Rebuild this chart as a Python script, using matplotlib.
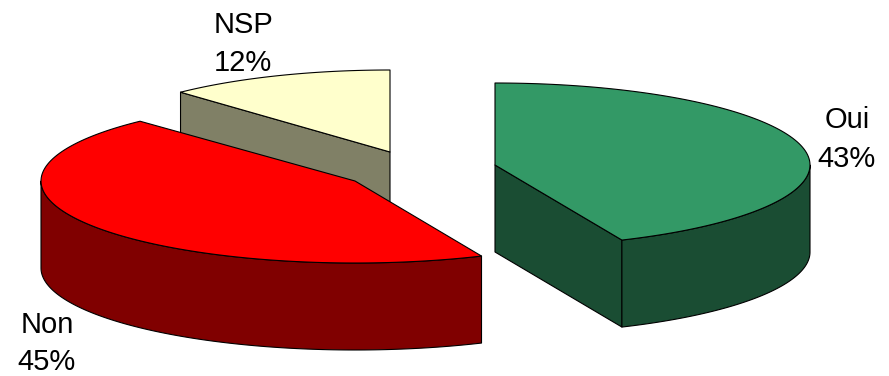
import numpy as np
import matplotlib
matplotlib.use('Agg')
import matplotlib.pyplot as plt
from matplotlib.patches import Polygon

plt.rcParams['font.family'] = ['Liberation Sans', 'DejaVu Sans']

categories = ['Oui', 'Non', 'NSP']
values = [43.4, 44.6, 12.0]
top_colors = ['#339966', '#FF0000', '#FFFFCC']
side_colors = ['#1A4D33', '#800000', '#808066']

# pie geometry in pixels (each slice has its own centre because it is pulled out)
centers = {'Oui': (495, 165), 'Non': (355, 181), 'NSP': (390, 152)}
radii = {'Oui': 315, 'Non': 314, 'NSP': 306}
b = 82
depth = 87

# x centre, baseline of the name, baseline of the percent
labels_pos = {'Oui': (847, 128, 167), 'Non': (47, 333, 370), 'NSP': (243, 33, 71)}

fig = plt.figure(figsize=(8.89, 3.76), dpi=100)
ax = fig.add_axes([0, 0, 1, 1])
ax.set_xlim(0, 889)
ax.set_ylim(376, 0)
ax.axis('off')


def arc(name, a0, a1):
    cx, cy = centers[name]
    t = np.radians(np.linspace(a0, a1, 120))
    return np.column_stack([cx + radii[name] * np.sin(t), cy - b * np.cos(t)])


def poly(pts, color):
    ax.add_patch(Polygon(pts, closed=True, facecolor=color, edgecolor='black', lw=0.8, joinstyle='round'))


angles = np.concatenate([[0], np.cumsum(values) / np.sum(values) * 360])
slices = {c: (angles[i], angles[i + 1], top_colors[i], side_colors[i]) for i, c in enumerate(categories)}

# back to front
for name in ['NSP', 'Non', 'Oui']:
    a0, a1, top, side = slices[name]
    c = np.array(centers[name], dtype=float)
    down = np.array([0, depth])

    # cut faces
    if name == 'NSP':
        p = arc(name, a0, a0)[0]
        poly([p, c, c + down, p + down], side)
    if name == 'Oui':
        p = arc(name, a1, a1)[0]
        poly([c, p, p + down, c + down], side)

    # outer rim, only the part facing us
    lo, hi = max(a0, 90), min(a1, 270)
    if lo < hi:
        rim = arc(name, lo, hi)
        poly(np.vstack([rim, (rim + down)[::-1]]), side)

    # top face
    poly(np.vstack([[c], arc(name, a0, a1)]), top)

for i, name in enumerate(categories):
    x, y1, y2 = labels_pos[name]
    ax.text(x, y1, name, ha='center', va='baseline', fontsize=21, color='black')
    ax.text(x, y2, f'{values[i]:.0f}%', ha='center', va='baseline', fontsize=21, color='black')

fig.savefig('out.png', dpi=100)
